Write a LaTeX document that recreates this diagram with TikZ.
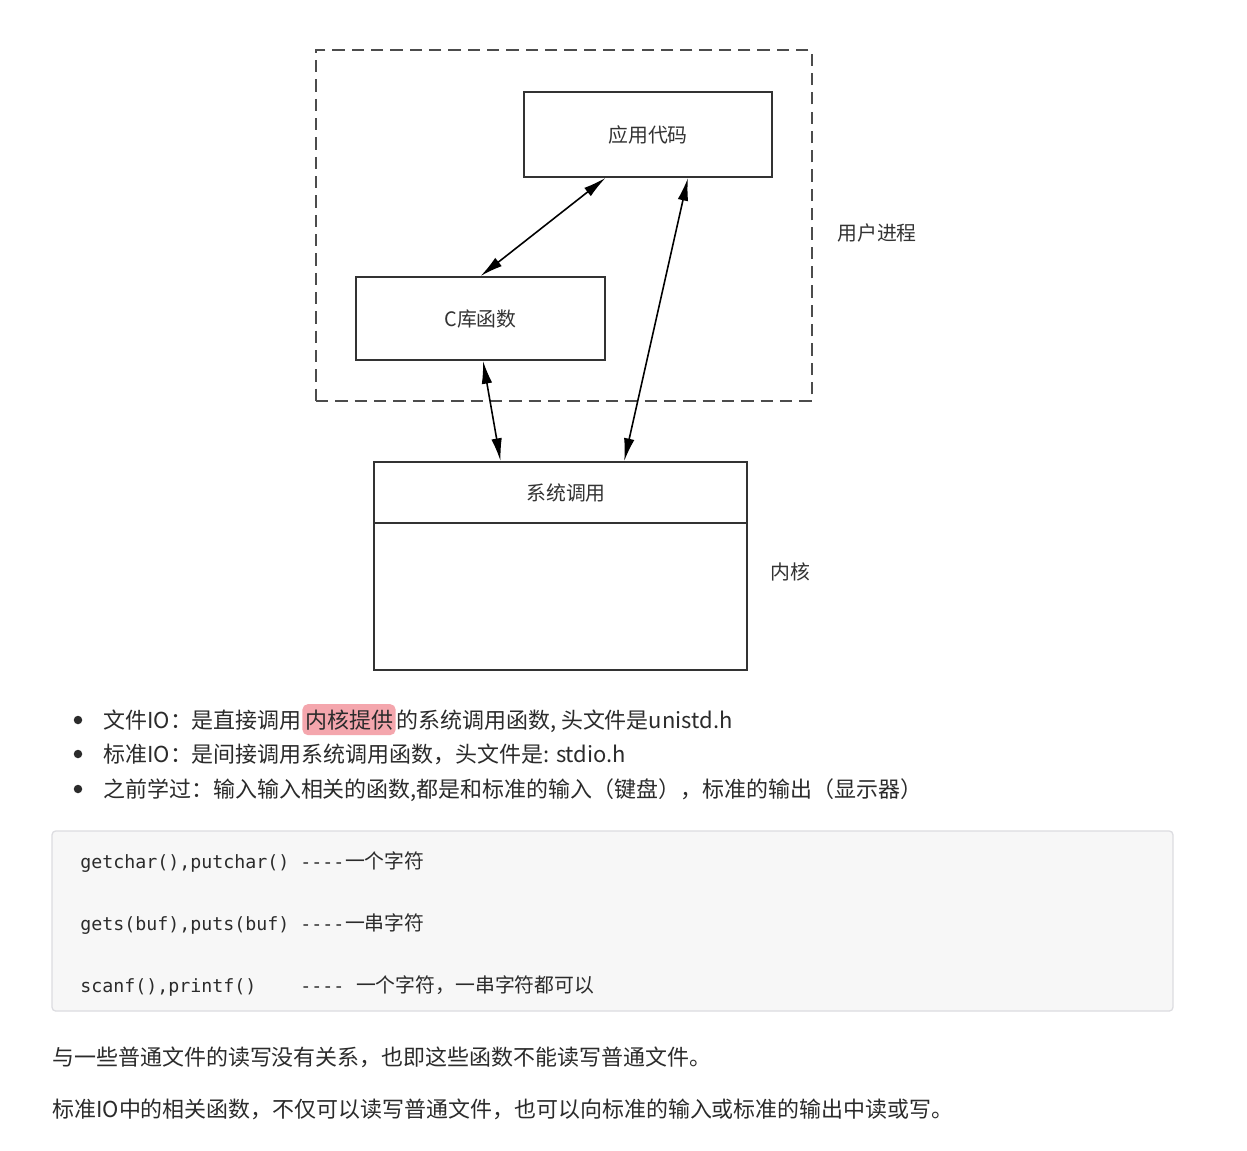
\documentclass[tikz,border=0pt]{standalone}
\usepackage{fontspec}
\setmainfont{Noto Sans CJK SC}
\newfontfamily\codefont{DejaVu Sans Mono}
\usetikzlibrary{arrows.meta,positioning,calc}
\definecolor{txt}{HTML}{2B2B2B}
\definecolor{hlpink}{HTML}{F4A6AD}
\definecolor{codebg}{HTML}{F7F7F7}
\definecolor{codeline}{HTML}{DCDCE0}
\tikzset{
  blk/.style     = {rectangle, draw=black!80, line width=1pt,
                    font=\fontsize{11.3}{13}\selectfont, text=black!80},
  proc/.style    = {rectangle, draw=black!70, line width=1pt,
                    dash pattern=on 7pt off 4pt},
  lbl/.style     = {font=\fontsize{11.3}{13}\selectfont, text=black!80},
  link/.style    = {{Latex[length=13pt,width=6pt]}-{Latex[length=13pt,width=6pt]},
                    line width=0.9pt},
  body/.style    = {anchor=base west, inner sep=0pt,
                    font=\fontsize{12.5}{15}\selectfont, text=txt},
  hl/.style      = {fill=hlpink, rounded corners=3pt, inner xsep=1.5pt, inner ysep=3pt},
  dot/.style     = {circle, fill=txt, inner sep=0pt, minimum size=0.17cm},
  code/.style    = {anchor=base west, inner sep=0pt,
                    font=\codefont\fontsize{10.4}{13}\selectfont, text=txt},
  codecn/.style  = {anchor=base west, inner sep=0pt,
                    font=\fontsize{11.3}{13}\selectfont, text=txt},
  codebox/.style = {rectangle, draw=codeline, fill=codebg, rounded corners=2pt,
                    line width=0.7pt},
}

\begin{document}
\begin{tikzpicture}[x=0.02cm, y=-0.02cm]
  \useasboundingbox[fill=white] (0,0) rectangle (1247,1150);

  % user process and kernel
  \node[proc, minimum width=9.92cm, minimum height=7.02cm] (proc) at (564,225.5) {};
  \node[blk, minimum width=4.96cm, minimum height=1.7cm] (app) at (648,134.5) {应用代码};
  \node[blk, minimum width=4.98cm, minimum height=1.66cm] (lib) at (480.5,318.5) {C库函数};
  \node[blk, minimum width=7.46cm, minimum height=4.16cm] (sys) at (560.5,566) {};
  \draw[black!80, line width=1pt] ($(sys.north west)+(0,62)$) -- ($(sys.north east)+(0,62)$);
  \node[lbl] (systxt) at (566,493) {系统调用};
  \node[lbl] (ulbl) at (877,233) {用户进程};
  \node[lbl] (klbl) at (790,572) {内核};

  \draw[link] (lib.north) -- ($(app.south west)!0.33!(app.south east)$);
  \draw[link] ($(lib.south west)!0.51!(lib.south east)$) -- ($(sys.north west)!0.34!(sys.north east)$);
  \draw[link] ($(sys.north west)!0.67!(sys.north east)$) -- ($(app.south west)!0.66!(app.south east)$);

  % bullet list
  \node[dot] (d1) at (78,720) {};
  \node[body] (b1a) at (103,728) {文件IO：是直接调用};
  \node[body, hl] (b1b) at (b1a.base east) {内核提供};
  \node[body] (b1c) at (b1b.base east) {的系统调用函数, 头文件是unistd.h};
  \node[dot] (d2) at (78,754) {};
  \node[body] (b2) at (103,762) {标准IO：是间接调用系统调用函数，头文件是: stdio.h};
  \node[dot] (d3) at (78,789) {};
  \node[body] (b3) at (103,797) {之前学过：输入输入相关的函数,都是和标准的输入（键盘），标准的输出（显示器）};

  % code block
  \node[codebox, minimum width=22.42cm, minimum height=3.6cm] (codebox) at (612.5,921) {};
  \node[code] (c1) at (80,868) {getchar(),putchar()~-{}-{}-{}-};
  \node[codecn] (c1t) at (c1.base east) {一个字符};
  \node[code] (c2) at (80,930) {gets(buf),puts(buf)~-{}-{}-{}-};
  \node[codecn] (c2t) at (c2.base east) {一串字符};
  \node[code] (c3) at (80,992) {scanf(),printf()~~~~-{}-{}-{}-};
  \node[codecn] (c3t) at ([xshift=0.22cm]c3.base east) {一个字符，一串字符都可以};

  % paragraphs
  \node[body] (p1) at (52,1065) {与一些普通文件的读写没有关系，也即这些函数不能读写普通文件。};
  \node[body] (p2) at (52,1117) {标准IO中的相关函数，不仅可以读写普通文件，也可以向标准的输入或标准的输出中读或写。};
\end{tikzpicture}
\end{document}
